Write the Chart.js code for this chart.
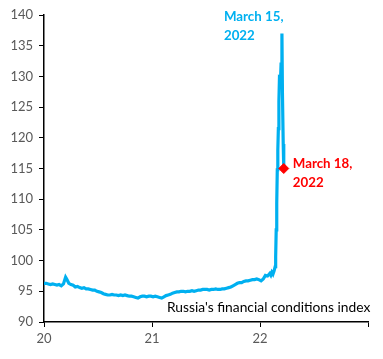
<!DOCTYPE html>
<html><head><meta charset="utf-8">
<script src="https://cdn.jsdelivr.net/npm/chart.js@4.4.1/dist/chart.umd.min.js"></script>
<style>html,body{margin:0;padding:0;background:#fff;}canvas{display:block;}</style>
</head><body>
<canvas id="c" width="383" height="359"></canvas>
<script>
const years = [20.00,20.02,20.04,20.06,20.08,20.10,20.12,20.14,20.16,20.18,20.20,20.21,20.23,20.25,20.27,20.29,20.31,20.33,20.35,20.37,20.39,20.41,20.43,20.45,20.47,20.49,20.51,20.53,20.55,20.57,20.59,20.61,20.63,20.65,20.67,20.69,20.71,20.73,20.75,20.77,20.79,20.81,20.83,20.85,20.87,20.89,20.91,20.93,20.95,20.97,20.99,21.01,21.03,21.05,21.07,21.09,21.11,21.13,21.15,21.17,21.19,21.21,21.23,21.25,21.27,21.29,21.31,21.33,21.35,21.37,21.39,21.41,21.43,21.45,21.47,21.49,21.51,21.53,21.55,21.57,21.59,21.61,21.63,21.65,21.67,21.69,21.71,21.73,21.75,21.77,21.79,21.81,21.83,21.85,21.87,21.89,21.91,21.93,21.95,21.97,21.99,22.01,22.03,22.05,22.07,22.09,22.10,22.11,22.12,22.13,22.14,22.145,22.15,22.155,22.16,22.165,22.17,22.175,22.18,22.19,22.195,22.203,22.208,22.215,22.22];
const values = [96.3,96.3,96.2,96.1,96.2,96.1,96.0,96.1,95.9,96.2,97.3,97.0,96.3,96.1,96.0,95.7,95.8,95.6,95.5,95.6,95.4,95.4,95.3,95.2,95.2,95.0,94.9,94.8,94.6,94.5,94.4,94.4,94.5,94.4,94.4,94.3,94.4,94.3,94.4,94.3,94.2,94.2,94.1,94.0,93.9,94.1,94.2,94.2,94.1,94.2,94.2,94.1,94.2,94.1,94.0,93.9,94.1,94.3,94.4,94.5,94.7,94.8,94.9,94.9,95.0,95.0,94.9,95.0,95.0,95.1,95.0,95.1,95.2,95.2,95.3,95.3,95.3,95.2,95.3,95.3,95.4,95.3,95.3,95.4,95.4,95.5,95.6,95.7,95.9,96.1,96.3,96.4,96.4,96.6,96.7,96.7,96.8,96.9,96.9,97.0,96.9,96.7,97.0,97.6,97.5,97.9,97.6,98.1,97.8,98.3,99.0,100.6,105.0,109.3,114.8,118.0,121.5,126.0,129.7,129.5,132.0,137.0,127.0,119.0,115.0];
const peakYear = [22.203];
const peakValue = [137.0];
const markerYear = [22.22];
const markerValue = [115.0];
const xTickLabels = {20:'20',21:'21',22:'22'};
const peakLabel = ['March 15,','2022'];
const markerLabel = ['March 18,','2022'];
const seriesTitle = "Russia's financial conditions index";

const FONT = 'Lato';
const lineData = years.map((x,i)=>({x:x,y:values[i]}));
const markData = markerYear.map((x,i)=>({x:x,y:markerValue[i]}));

const textPlugin = {
  id:'texts',
  afterDatasetsDraw(chart){
    const ctx = chart.ctx, xs = chart.scales.x, ys = chart.scales.y;
    ctx.save();
    ctx.textBaseline='middle';
    ctx.textAlign='left';
    ctx.font = 'bold 13.3px '+FONT;
    ctx.fillStyle = '#00B0F0';
    const px = xs.getPixelForValue(peakYear[0]), py = ys.getPixelForValue(peakValue[0]);
    ctx.fillText(peakLabel[0], px-58, py-17);
    ctx.fillText(peakLabel[1], px-58, py+2);
    ctx.fillStyle = '#FF0000';
    const mx = xs.getPixelForValue(markerYear[0]), my = ys.getPixelForValue(markerValue[0]);
    ctx.fillText(markerLabel[0], mx+9, my-5);
    ctx.fillText(markerLabel[1], mx+9, my+14);
    ctx.fillStyle = '#000000';
    ctx.font = '13.8px '+FONT;
    ctx.fillText(seriesTitle, chart.chartArea.left+123, chart.chartArea.bottom-14);
    ctx.restore();
  }
};

new Chart(document.getElementById('c'), {
  type:'line',
  data:{datasets:[
    {data:lineData, borderColor:'#00B0F0', borderWidth:3.2, pointRadius:0, tension:0, order:2},
    {data:markData, borderColor:'#FF0000', backgroundColor:'#FF0000', pointStyle:'rectRot', pointRadius:5, showLine:false, order:1}
  ]},
  options:{
    responsive:false, animation:false,
    layout:{padding:{top:15,right:15,left:0,bottom:0}},
    plugins:{legend:{display:false}, tooltip:{enabled:false}},
    scales:{
      x:{type:'linear', min:20, max:23,
        afterFit(s){s.height=37;},
        border:{display:true,color:'#000',width:1.5},
        grid:{drawOnChartArea:false, drawTicks:true, tickLength:5, color:'#000'},
        ticks:{stepSize:1, color:'#595959', font:{family:FONT,size:13}, padding:4,
          callback:(v)=>xTickLabels[v]||''}
      },
      y:{min:90, max:140,
        afterFit(s){s.width=44;},
        border:{display:true,color:'#000',width:1.5},
        grid:{drawOnChartArea:false, drawTicks:true, tickLength:5, color:'#000'},
        ticks:{stepSize:5, color:'#595959', font:{family:FONT,size:13}, padding:6}
      }
    }
  },
  plugins:[textPlugin]
});
</script>
</body></html>
